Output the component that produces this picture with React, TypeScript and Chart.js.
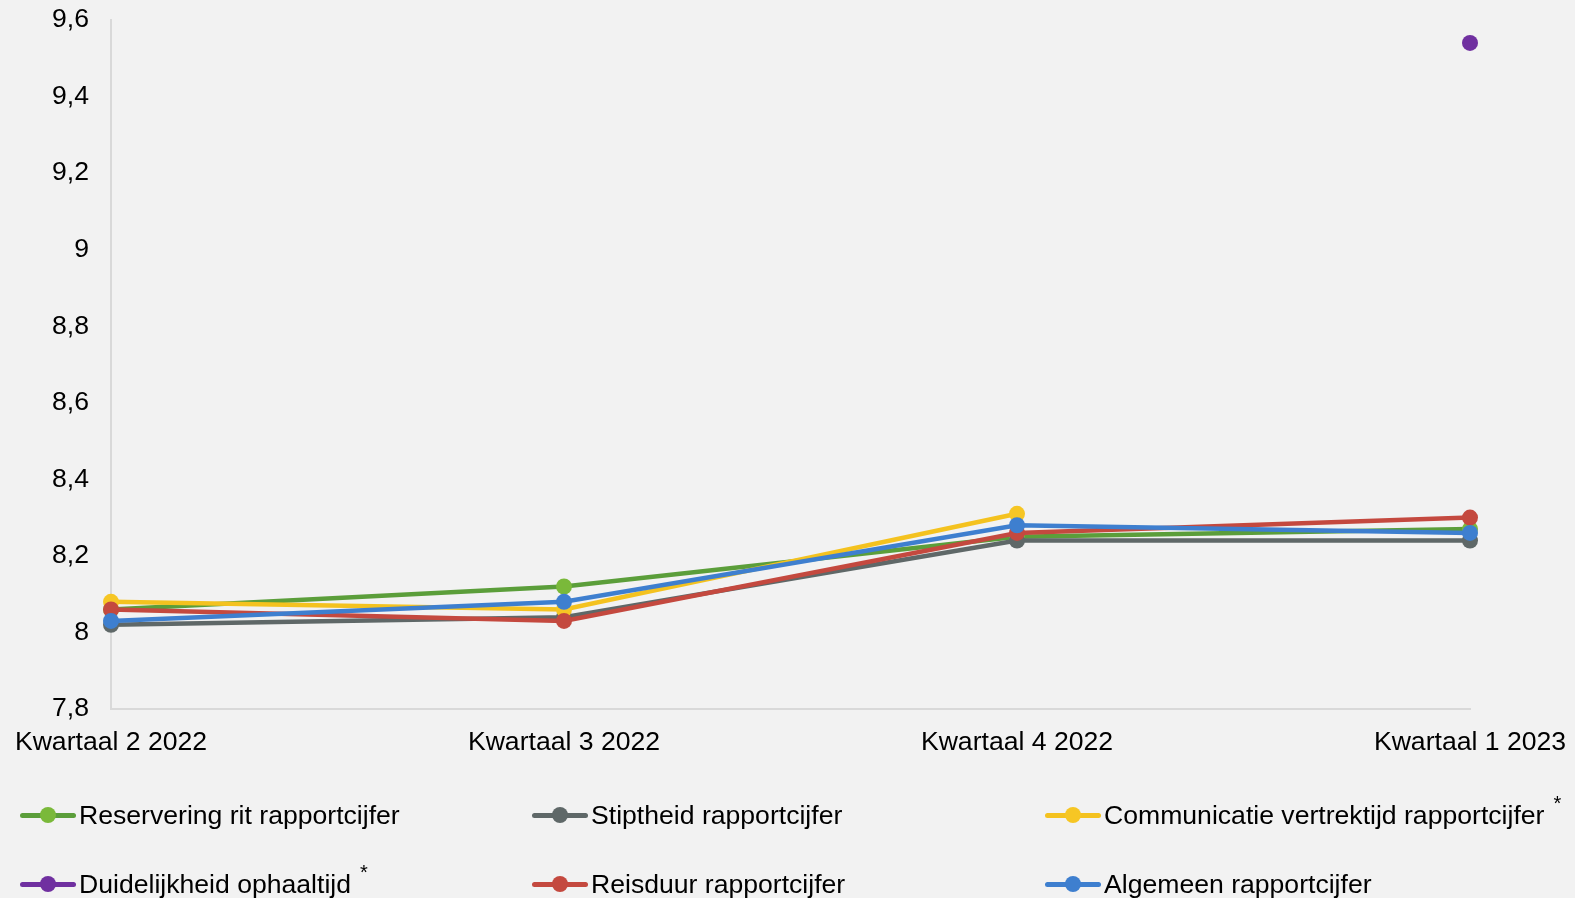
import React, { useEffect, useRef } from "react";
import { Chart, registerables } from "chart.js";

Chart.register(...registerables);

// Quarters on the x axis
const quarters = ["Kwartaal 2 2022", "Kwartaal 3 2022", "Kwartaal 4 2022", "Kwartaal 1 2023"];

// Report marks per quarter (null = not asked that quarter)
const reserveringRit = [8.06, 8.12, 8.25, 8.27];
const stiptheid = [8.02, 8.04, 8.24, 8.24];
const communicatieVertrektijd = [8.08, 8.06, 8.31, null];
const duidelijkheidOphaaltijd = [null, null, null, 9.54];
const reisduur = [8.06, 8.03, 8.26, 8.3];
const algemeen = [8.03, 8.08, 8.28, 8.26];

const seriesNames = [
  "Reservering rit rapportcijfer",
  "Stiptheid rapportcijfer",
  "Communicatie vertrektijd rapportcijfer",
  "Duidelijkheid ophaaltijd",
  "Reisduur rapportcijfer",
  "Algemeen rapportcijfer",
];
const seriesValues = [reserveringRit, stiptheid, communicatieVertrektijd, duidelijkheidOphaaltijd, reisduur, algemeen];
// Series marked with a footnote asterisk
const footnoted = [false, false, true, true, false, false];

const lineColors = ["#5b9e3a", "#5f6868", "#f4c21f", "#7030a0", "#c4493f", "#3e7fcf"];
const dotColors = ["#7ab93a", "#5f6868", "#f6c624", "#7030a0", "#c4493f", "#3e7fcf"];

// Y axis range
const yMin = 7.8;
const yMax = 9.6;
const yStep = 0.2;

const FONT = "'Liberation Sans', Arial, sans-serif";
const FONT_SIZE = 26.6;

function formatMark(v: number): string {
  return String(Number(v.toFixed(1))).replace(".", ",");
}

export default function App() {
  const canvasRef = useRef<HTMLCanvasElement | null>(null);

  useEffect(() => {
    document.body.style.margin = "0";
    document.body.style.background = "#f2f2f2";
    const canvas = canvasRef.current;
    if (!canvas) return;

    const chart = new Chart(canvas, {
      type: "line",
      data: {
        labels: quarters,
        datasets: seriesNames.map((name, i) => ({
          label: name,
          data: seriesValues[i],
          borderColor: lineColors[i],
          backgroundColor: dotColors[i],
          pointBackgroundColor: dotColors[i],
          pointBorderColor: dotColors[i],
          pointBorderWidth: 0,
          pointRadius: 8,
          borderWidth: 4.5,
          tension: 0,
          spanGaps: false,
          order: seriesNames.length - i,
        })),
      },
      options: {
        responsive: false,
        animation: false,
        layout: { padding: { top: 20, right: 105, left: 0, bottom: 0 } },
        plugins: {
          legend: { display: false },
          tooltip: { enabled: false },
        },
        scales: {
          x: {
            offset: false,
            grid: { display: false, drawTicks: false },
            border: { display: true, color: "#d9d9d9", width: 2 },
            ticks: {
              color: "#000",
              font: { family: FONT, size: FONT_SIZE },
              padding: 18,
              maxRotation: 0,
              autoSkip: false,
            },
            afterFit: (scale: any) => {
              scale.height = 189;
              scale.paddingLeft = 0;
              scale.paddingRight = 0;
            },
          },
          y: {
            min: yMin,
            max: yMax,
            grid: { display: false, drawTicks: false },
            border: { display: true, color: "#d9d9d9", width: 2 },
            ticks: {
              stepSize: yStep,
              color: "#000",
              font: { family: FONT, size: FONT_SIZE },
              padding: 22,
              callback: (v: any) => formatMark(Number(v)),
            },
            afterFit: (scale: any) => {
              scale.width = 111;
              scale.paddingTop = 0;
              scale.paddingBottom = 0;
            },
          },
        },
      },
    });
    return () => chart.destroy();
  }, []);

  const colLeft = [20, 532, 1045];
  const rowTop = [815, 884];

  return (
    <div style={{ position: "relative", width: 1575, height: 898, background: "#f2f2f2", overflow: "hidden" }}>
      <canvas ref={canvasRef} width={1575} height={898} style={{ display: "block" }} />
      {seriesNames.map((name, i) => {
        const col = i % 3;
        const row = Math.floor(i / 3);
        return (
          <div
            key={name}
            style={{
              position: "absolute",
              left: colLeft[col],
              top: rowTop[row] - 18,
              height: 36,
              display: "flex",
              alignItems: "center",
              fontFamily: FONT,
              fontSize: FONT_SIZE,
              color: "#000",
              whiteSpace: "nowrap",
            }}
          >
            <span style={{ position: "relative", width: 56, height: 16, marginRight: 3, display: "inline-block" }}>
              <span
                style={{
                  position: "absolute",
                  left: 0,
                  top: 5.5,
                  width: 56,
                  height: 5,
                  background: lineColors[i],
                  borderRadius: 2.5,
                }}
              />
              <span
                style={{
                  position: "absolute",
                  left: 20,
                  top: 0,
                  width: 16,
                  height: 16,
                  borderRadius: 8,
                  background: dotColors[i],
                }}
              />
            </span>
            <span>{name}</span>
            {footnoted[i] ? (
              <span style={{ fontSize: 20, position: "relative", top: -12, marginLeft: 9 }}>*</span>
            ) : null}
          </div>
        );
      })}
    </div>
  );
}
